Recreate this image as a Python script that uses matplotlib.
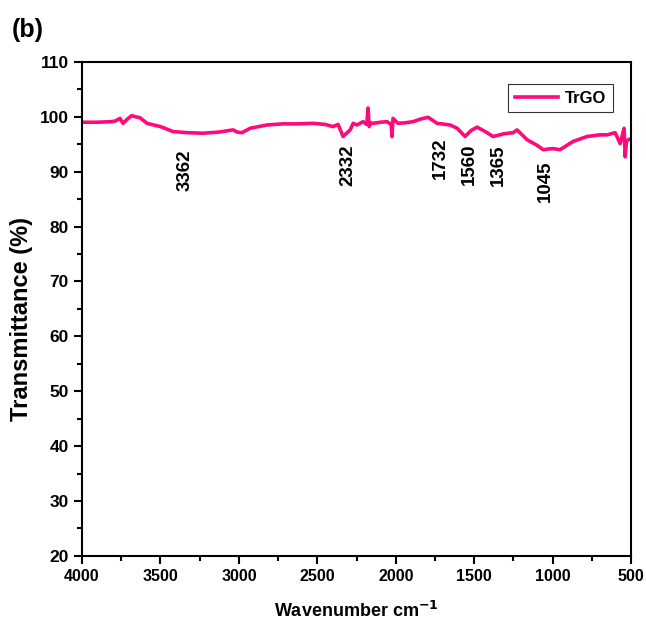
import matplotlib
matplotlib.use("Agg")
import matplotlib.pyplot as plt
from matplotlib.ticker import MultipleLocator

plt.rcParams['font.family'] = ['Liberation Sans', 'DejaVu Sans']
plt.rcParams['font.weight'] = 'bold'

# FTIR spectrum of TrGO
wavenumber = [4000, 3900, 3820, 3790, 3758, 3739, 3710, 3683, 3660, 3630, 3586,
              3500, 3420, 3330, 3229, 3130, 3037, 3010, 2980, 2929, 2821,
              2720, 2629, 2527, 2450, 2400, 2368, 2336, 2291, 2272, 2247,
              2209, 2185, 2177, 2170, 2160, 2145, 2100, 2056, 2030, 2024,
              2018, 1986, 1940, 1890, 1840, 1794, 1737, 1654, 1609, 1558,
              1520, 1482, 1430, 1380, 1310, 1252, 1227, 1163, 1100, 1061,
              1000, 953, 870, 781, 700, 653, 602, 570, 545, 538, 530, 519, 500]
transmittance = [99.0, 99.0, 99.1, 99.2, 99.7, 98.8, 99.6, 100.2, 100.0, 99.8, 98.8,
                 98.2, 97.3, 97.1, 97.0, 97.2, 97.6, 97.2, 97.1, 97.9, 98.5,
                 98.7, 98.7, 98.8, 98.6, 98.2, 98.6, 96.4, 97.6, 98.8, 98.5,
                 99.1, 98.6, 101.6, 98.2, 98.9, 98.8, 99.0, 99.1, 98.6, 96.4,
                 99.7, 98.8, 98.9, 99.1, 99.6, 99.9, 98.8, 98.5, 97.9, 96.4,
                 97.5, 98.1, 97.3, 96.4, 96.9, 97.1, 97.6, 95.8, 94.8, 94.0,
                 94.2, 94.0, 95.5, 96.4, 96.7, 96.7, 97.1, 95.1, 97.9, 92.7,
                 95.5, 95.8, 96.0]

peak_labels = ['3362', '2332', '1732', '1560', '1365', '1045']
peak_x = [3340, 2307, 1718, 1530, 1345, 1045]
peak_y = [94.0, 94.9, 96.3, 95.2, 94.9, 92.1]

fig = plt.figure(figsize=(6.46, 6.31), dpi=100)
ax = fig.add_axes([0.127, 0.119, 0.850, 0.783])

ax.plot(wavenumber, transmittance, color='#ff0a7a', lw=2.6, label='TrGO')

for lab, px, py in zip(peak_labels, peak_x, peak_y):
    ax.text(px, py, lab, rotation=90, ha='center', va='top',
            fontsize=13.5, fontweight='bold')

ax.set_xlim(4000, 500)
ax.set_ylim(20, 110)
ax.xaxis.set_major_locator(MultipleLocator(500))
ax.xaxis.set_minor_locator(MultipleLocator(250))
ax.yaxis.set_major_locator(MultipleLocator(10))
ax.yaxis.set_minor_locator(MultipleLocator(5))
ax.tick_params(which='both', direction='out', width=1.5)
ax.tick_params(axis='x', labelsize=11.5)
ax.tick_params(axis='y', labelsize=12.5)
ax.tick_params(which='major', length=6)
ax.tick_params(which='minor', length=3.5)
for sp in ax.spines.values():
    sp.set_linewidth(1.5)

ax.set_xlabel('Wavenumber cm$^{\\mathbf{-1}}$', fontsize=13, fontweight='bold', labelpad=12)
ax.set_ylabel('Transmittance (%)', fontsize=17, fontweight='bold')
ax.yaxis.set_label_coords(-0.09, 0.48)

leg = ax.legend(loc='upper right', bbox_to_anchor=(0.967, 0.955), fontsize=12,
                frameon=True, fancybox=False, handlelength=2.6, handletextpad=0.4,
                borderpad=0.4, borderaxespad=0.0)
leg.get_frame().set_edgecolor('black')
leg.get_frame().set_linewidth(0.8)

fig.text(0.018, 0.942, '(b)', fontsize=18, fontweight='bold')

fig.savefig('out.png', dpi=100)
